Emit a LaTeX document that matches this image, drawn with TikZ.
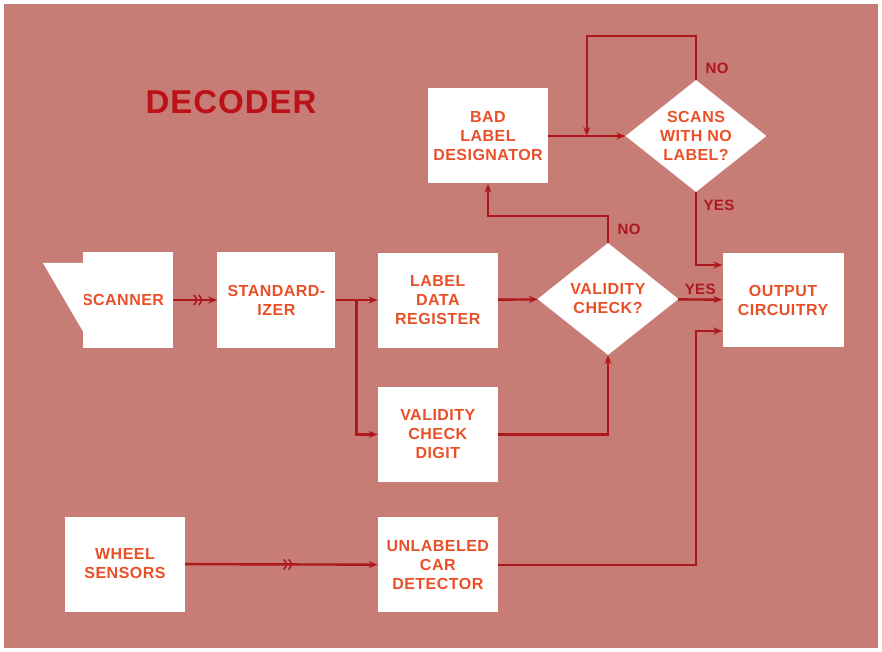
\documentclass[tikz,border=0pt]{standalone}
\usepackage{fontspec}
\setmainfont{Liberation Sans}[LetterSpace=3]
\usepackage{xcolor}
\usepackage{tikz}
\usetikzlibrary{arrows.meta,positioning,shapes.geometric,calc}
\definecolor{paper}{RGB}{200,124,118}
\definecolor{boxtext}{RGB}{234,80,40}
\definecolor{wire}{RGB}{172,24,28}
\definecolor{titlered}{RGB}{186,18,24}

\begin{document}
\begin{tikzpicture}[
    x=1pt,
    y=-1pt,
    box/.style={
        rectangle,
        fill=white,
        text=boxtext,
        font=\bfseries\fontsize{16}{19}\selectfont,
        align=center,
        inner sep=0pt,
        minimum width=120pt,
        minimum height=95pt
    },
    decision/.style={
        diamond,
        fill=white,
        text=boxtext,
        font=\bfseries\fontsize{16}{19}\selectfont,
        align=center,
        inner sep=0pt,
        aspect=1.26,
        minimum width=141pt,
        minimum height=112pt
    },
    arrow/.style={
        -{Stealth[length=9pt,width=7pt]},
        draw=wire,
        line width=2.4pt
    },
    answer/.style={
        text=wire,
        font=\bfseries\fontsize{15}{18}\selectfont
    }
]

\useasboundingbox (0,0) rectangle (882,652);
\fill[paper] (4,4) rectangle (878,648);

\node[text=titlered, font=\bfseries\fontsize{33}{36}\selectfont] (title) at (231,102) {DECODER};

\node[box, minimum width=90pt, minimum height=96pt] (scanner) at (128,300) {\hspace*{-10pt}SCANNER};
\fill[white] (scanner.north west) ++(1,11) -- ++(-41,0) -- ++(41,70) -- cycle;
\node[box, minimum width=118pt, minimum height=96pt, right=44pt of scanner] (standardizer) {STANDARD-\\IZER};
\node[box, right=42pt of standardizer] (register) {LABEL\\DATA\\REGISTER};
\node[box, below=39pt of register] (checkdigit) {VALIDITY\\CHECK\\DIGIT};
\node[box, below=35pt of checkdigit] (unlabeled) {UNLABELED\\CAR\\DETECTOR};
\node[box] (wheels) at (125,564) {WHEEL\\SENSORS};

\node[decision] (validity) at (608,299) {VALIDITY\\CHECK?};
\node[box, minimum width=121pt, minimum height=94pt] (output) at (783,300) {OUTPUT\\CIRCUITRY};
\node[box] (baddesig) at (488,136) {BAD\\LABEL\\DESIGNATOR};
\node[decision] (scans) at (696,136) {SCANS\\WITH NO\\LABEL?};

\coordinate (split) at ($(standardizer.east)!0.5!(register.west)$);
\coordinate (merge) at ($(baddesig.east)!0.5!(scans.west)$);
\coordinate (gapscan) at ($(scanner.east)!0.55!(standardizer.west)$);
\coordinate (gapwheel) at ($(wheels.east)!0.53!(unlabeled.west)$);

\draw[arrow] (scanner) -- (standardizer);
\draw[arrow] (standardizer) -- (register);
\draw[arrow] (split) |- (checkdigit);
\draw[arrow] (register) -- (validity);
\draw[arrow] (checkdigit) -| (validity);
\draw[arrow] (validity) -- (output) node[answer, midway, above] (yesvalid) {YES};
\draw[arrow] (validity.north) -- ++(0,-27) -| (baddesig);
\draw[arrow] (baddesig) -- (scans);
\draw[arrow] (scans.north) -- ++(0,-44) -| (merge);
\draw[arrow] (scans.south) |- ([yshift=35pt]output.west);
\draw[arrow] (wheels) -- (unlabeled);
\draw[arrow] (unlabeled) -- (unlabeled -| scans.south) |- ([yshift=-31pt]output.west);

\node[answer] (novalid) at (629,229) {NO};
\node[answer] (noscans) at (717,68) {NO};
\node[answer] (yesscans) at (719,205) {YES};

\foreach \g in {gapscan,gapwheel}
    \foreach \dx in {-2.5,2.5}
        \draw[wire, line width=1.6pt] ([shift={(\dx-1,5)}]\g) .. controls ([shift={(\dx+2.5,1)}]\g) and ([shift={(\dx+2.5,-1)}]\g) .. ([shift={(\dx-1,-5)}]\g);

\end{tikzpicture}
\end{document}
